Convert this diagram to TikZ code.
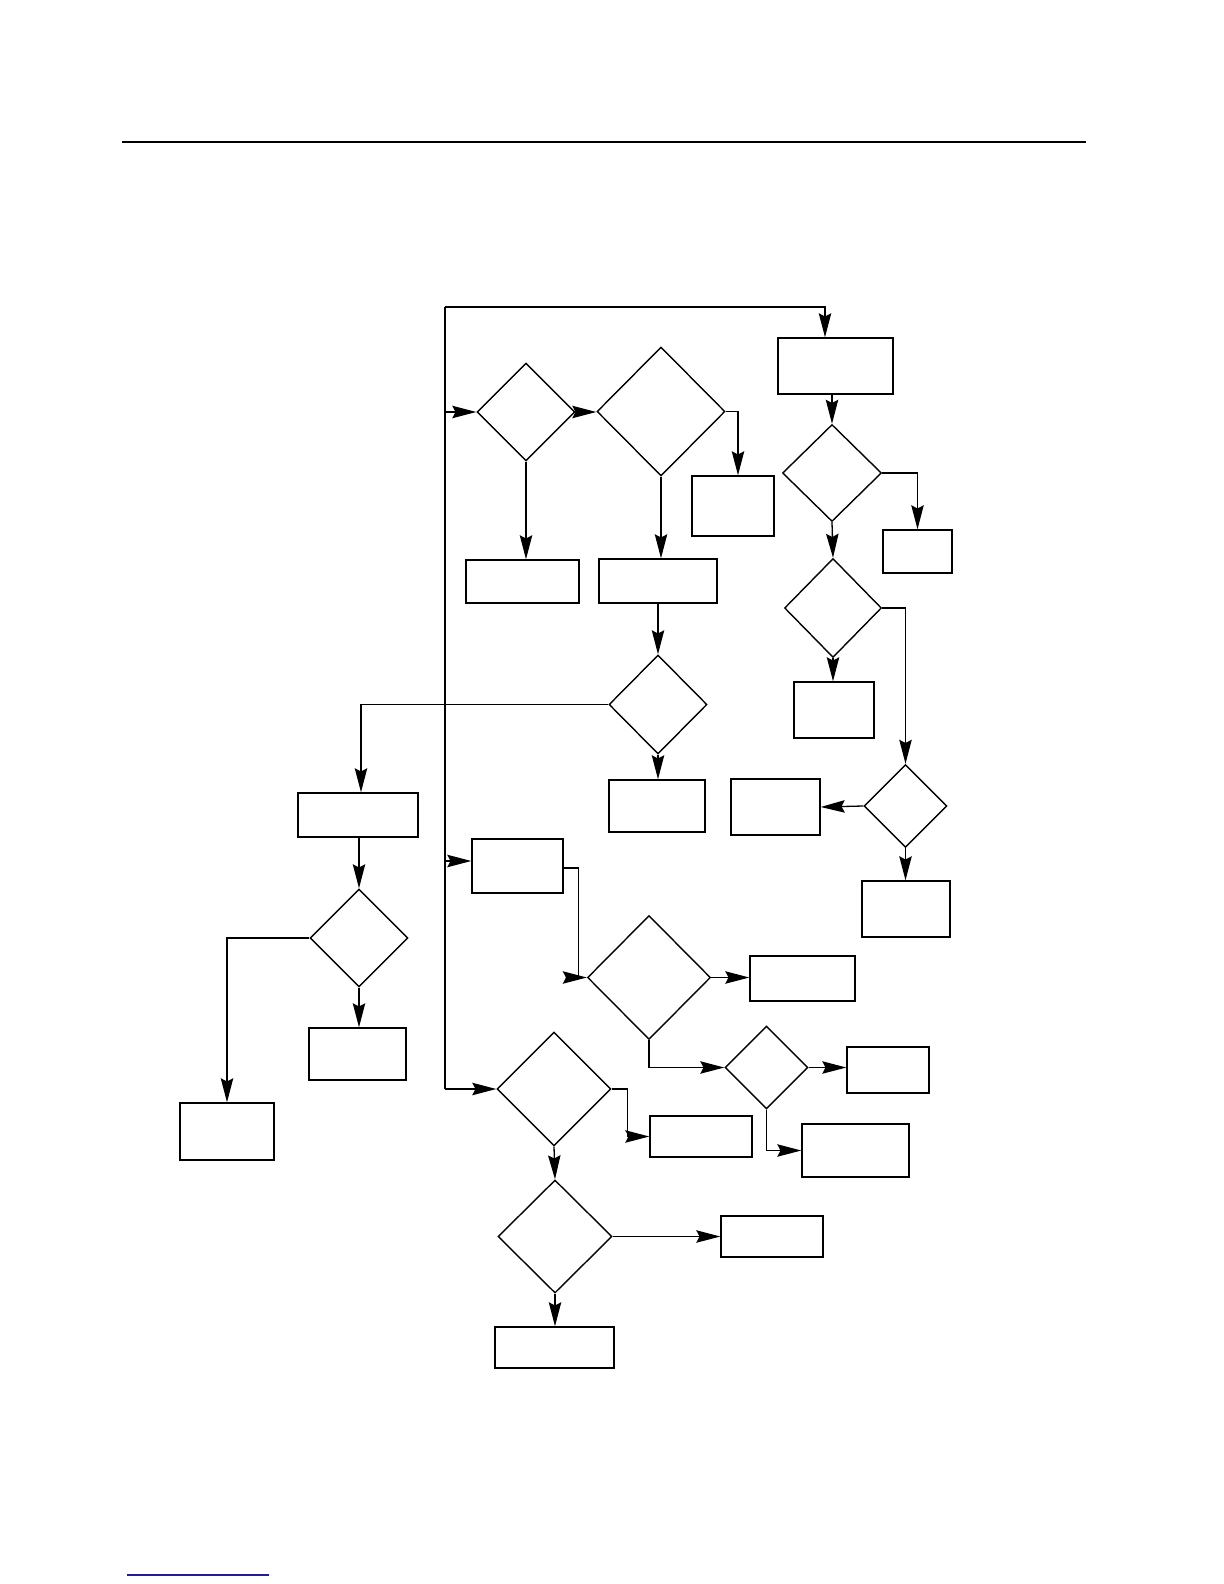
\documentclass[tikz,border=0pt]{standalone}
\usetikzlibrary{shapes.geometric,arrows.meta}
\begin{document}
\begin{tikzpicture}[x=0.5pt,y=-0.5pt,
  box/.style={draw,rectangle,inner sep=0pt,line width=0.7pt},
  dia/.style={draw,diamond,inner sep=0pt,line width=0.7pt},
  conn/.style={line width=0.65pt},
  arr/.style={conn,-{Stealth[length=12pt,width=6.2pt,inset=1.6pt]}}]
\useasboundingbox (0,0) rectangle (1224,1584);
\fill[white] (0,0) rectangle (1224,1584);
% header rule and footer line
\draw[line width=1pt] (122,141.5) -- (1085.5,141.5);
\draw[line width=0.8pt,color={rgb,255:red,30;green,30;blue,150}] (127,1575) -- (269,1575);
% rectangles
\node[box,minimum width=57.5pt,minimum height=28pt] (A) at (835.5,366) {};
\node[box,minimum width=41pt,minimum height=30pt] (B) at (733,506) {};
\node[box,minimum width=56.5pt,minimum height=21.5pt] (C) at (522.5,581.5) {};
\node[box,minimum width=59pt,minimum height=22pt] (E) at (658,581) {};
\node[box,minimum width=34.5pt,minimum height=21.5pt] (F) at (917.5,551.5) {};
\node[box,minimum width=40pt,minimum height=28pt] (G) at (834,710) {};
\node[box,minimum width=44.5pt,minimum height=28pt] (H) at (775.5,807) {};
\node[box,minimum width=44pt,minimum height=28pt] (I) at (906,909) {};
\node[box,minimum width=60pt,minimum height=22pt] (J) at (358,815) {};
\node[box,minimum width=47pt,minimum height=28.5pt] (K) at (227,1131.5) {};
\node[box,minimum width=48.5pt,minimum height=26pt] (L) at (357.5,1054) {};
\node[box,minimum width=48pt,minimum height=26pt] (M) at (657,806) {};
\node[box,minimum width=45.5pt,minimum height=27pt] (N) at (517.5,866) {};
\node[box,minimum width=51pt,minimum height=20.5pt] (O) at (701,1136.5) {};
\node[box,minimum width=52.5pt,minimum height=22.5pt] (P) at (802.5,978.5) {};
\node[box,minimum width=41pt,minimum height=23pt] (Q) at (888,1070) {};
\node[box,minimum width=53.5pt,minimum height=26.5pt] (R) at (855.5,1150.5) {};
\node[box,minimum width=51pt,minimum height=20.5pt] (S) at (772,1236.5) {};
\node[box,minimum width=59.5pt,minimum height=20.5pt] (T) at (554.5,1347.5) {};
% diamonds
\node[dia,minimum width=49pt,minimum height=49pt] (D1) at (526,412) {};
\node[dia,minimum width=64pt,minimum height=64.5pt] (D2) at (661,411.5) {};
\node[dia,minimum width=49.5pt,minimum height=48.5pt] (D3) at (832,473) {};
\node[dia,minimum width=48.5pt,minimum height=49.5pt] (D4) at (833,608) {};
\node[dia,minimum width=49pt,minimum height=49.5pt] (D5) at (658,704.5) {};
\node[dia,minimum width=41.5pt,minimum height=41.5pt] (D6) at (905.5,806) {};
\node[dia,minimum width=49pt,minimum height=49pt] (D7) at (359,938) {};
\node[dia,minimum width=61.5pt,minimum height=62pt] (D8) at (649,977.5) {};
\node[dia,minimum width=57pt,minimum height=57pt] (D9) at (554,1089) {};
\node[dia,minimum width=41.5pt,minimum height=41.5pt] (D10) at (766.5,1067.5) {};
\node[dia,minimum width=57pt,minimum height=56.5pt] (D11) at (555,1236.5) {};
% trunk
\coordinate (tTop) at (445,307);
\coordinate (tBot) at (445,1089);
\coordinate (aIn) at ([xshift=-5.25pt]A.north);
\coordinate (nIn) at ([yshift=2.5pt]N.west);
\draw[conn] (tTop) -- (tBot);
\draw[arr] (tTop) -| (aIn);
\draw[arr] (tTop |- D1.west) -- (D1.west);
\draw[arr] (tTop |- nIn) -- (nIn);
\draw[arr] (tBot) -- (D9.west);
% top row
\draw[arr] (D1.east) -- (D1.east -| D2.west);
\draw[arr] (D1.south) -- (D1.south |- C.north);
\draw[arr] (D2.south) -- (D2.south |- E.north);
\draw[arr] (D2.east) -| ([xshift=2.5pt]B.north);
\draw[arr] (A.south -| D3.north) -- (D3.north);
\draw[arr] (D3.east) -| (F.north);
\draw[arr] (D3.south) -- (D4.north);
\draw[arr] (D4.east) -| (D6.north);
\draw[arr] (D4.south) -- (D4.south |- G.north);
\draw[arr] (D6.west) -- (H.east);
\draw[arr] (D6.south) -- (D6.south |- I.north);
% middle
\draw[arr] (E.south -| D5.north) -- (D5.north);
\draw[arr] (D5.south) -- (D5.south |- M.north);
\draw[arr] (D5.west) -| ([xshift=1.5pt]J.north);
\draw[arr] (D7.north |- J.south) -- (D7.north);
\draw[arr] (D7.west) -| (K.north);
\draw[arr] (D7.south) -- (D7.south |- L.north);
% lower right
\draw[arr] ([yshift=-1pt]N.east) -- ++(15,0) |- (D8.west);
\draw[arr] (D8.east) -- (D8.east -| P.west);
\draw[arr] (D8.south) |- (D10.west);
\draw[arr] (D10.east) -- (D10.east -| Q.west);
\draw[arr] (D10.south) |- (R.west);
\draw[arr] (D9.east) -- ++(16,0) |- (O.west);
\draw[arr] (D9.south) -- (D11.north);
\draw[arr] (D11.east) -- (D11.east -| S.west);
\draw[arr] (D11.south) -- (D11.south |- T.north);
\end{tikzpicture}
\end{document}
